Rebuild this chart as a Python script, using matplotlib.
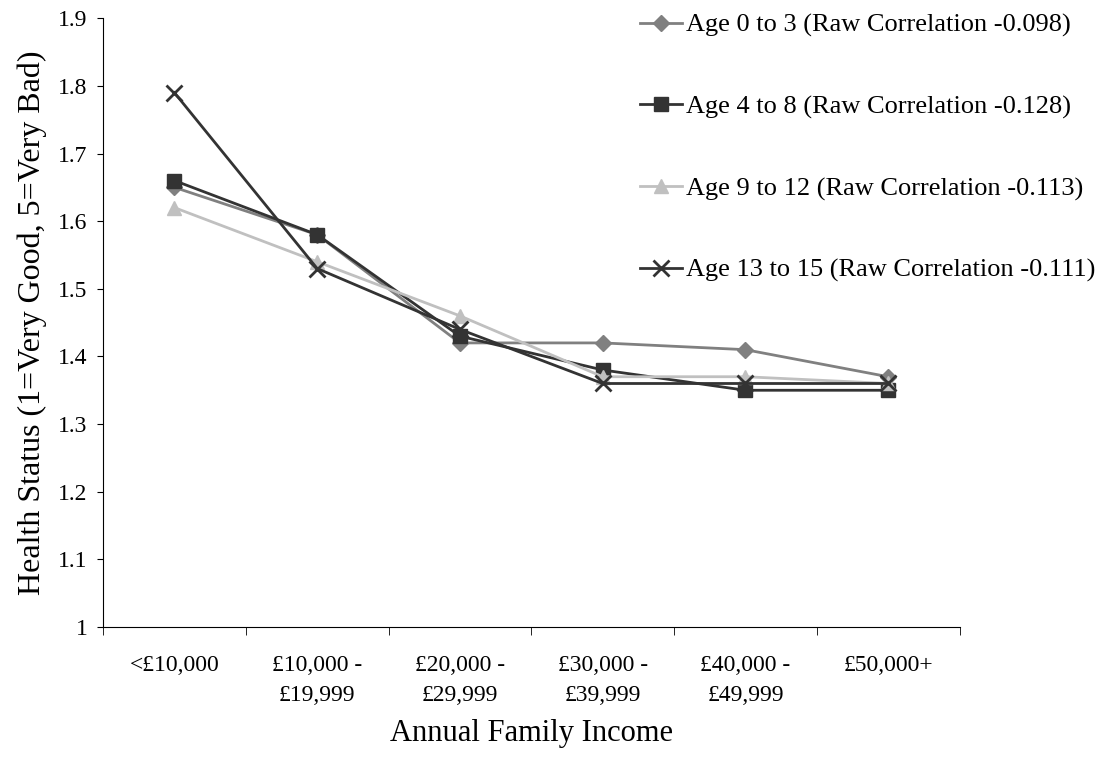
import matplotlib.pyplot as plt
from matplotlib.ticker import FixedLocator, FuncFormatter

plt.rcParams['font.family'] = ['Liberation Serif', 'DejaVu Serif']

categories = ['<£10,000', '£10,000 -\n£19,999', '£20,000 -\n£29,999',
              '£30,000 -\n£39,999', '£40,000 -\n£49,999', '£50,000+']
age_0_3 = [1.65, 1.58, 1.42, 1.42, 1.41, 1.37]
age_4_8 = [1.66, 1.58, 1.43, 1.38, 1.35, 1.35]
age_9_12 = [1.62, 1.54, 1.46, 1.37, 1.37, 1.36]
age_13_15 = [1.79, 1.53, 1.44, 1.36, 1.36, 1.36]
labels = ['Age 0 to 3 (Raw Correlation -0.098)',
          'Age 4 to 8 (Raw Correlation -0.128)',
          'Age 9 to 12 (Raw Correlation -0.113)',
          'Age 13 to 15 (Raw Correlation -0.111)']

fig = plt.figure(figsize=(11.08, 7.6), dpi=100)
ax = fig.add_axes([0.093, 0.175, 0.773, 0.801])

x = range(len(categories))
ax.plot(x, age_0_3, color='#808080', marker='D', markersize=8, lw=2, label=labels[0])
ax.plot(x, age_4_8, color='#333333', marker='s', markersize=10, lw=2, label=labels[1])
ax.plot(x, age_9_12, color='#c0c0c0', marker='^', markersize=10, lw=2, label=labels[2])
ax.plot(x, age_13_15, color='#333333', marker='x', markersize=11, mew=2, lw=2, label=labels[3])

ax.set_xlim(-0.5, 5.5)
ax.set_ylim(1, 1.9)
ax.set_yticks([1 + i / 10 for i in range(10)])
ax.yaxis.set_major_formatter(FuncFormatter(lambda v, p: '%g' % round(v, 1)))
ax.set_xticks(list(x))
ax.set_xticklabels(categories, fontsize=17, linespacing=1.6)
ax.xaxis.set_minor_locator(FixedLocator([i - 0.5 for i in range(7)]))
ax.tick_params(axis='x', which='major', length=0, pad=20)
ax.tick_params(axis='x', which='minor', length=6, direction='out')
ax.tick_params(axis='y', length=4.5, direction='out', labelsize=17, pad=6.5)

for s in ['top', 'right']:
    ax.spines[s].set_visible(False)

ax.set_xlabel('Annual Family Income', fontsize=22, labelpad=9)
ax.set_ylabel('Health Status (1=Very Good, 5=Very Bad)', fontsize=23, labelpad=8)

fig.legend(loc='upper left', bbox_to_anchor=(0.556, 1.0135), frameon=False,
           fontsize=19, labelspacing=2.19, handlelength=1.6, handletextpad=0.15)

fig.savefig('out.png', dpi=100)
